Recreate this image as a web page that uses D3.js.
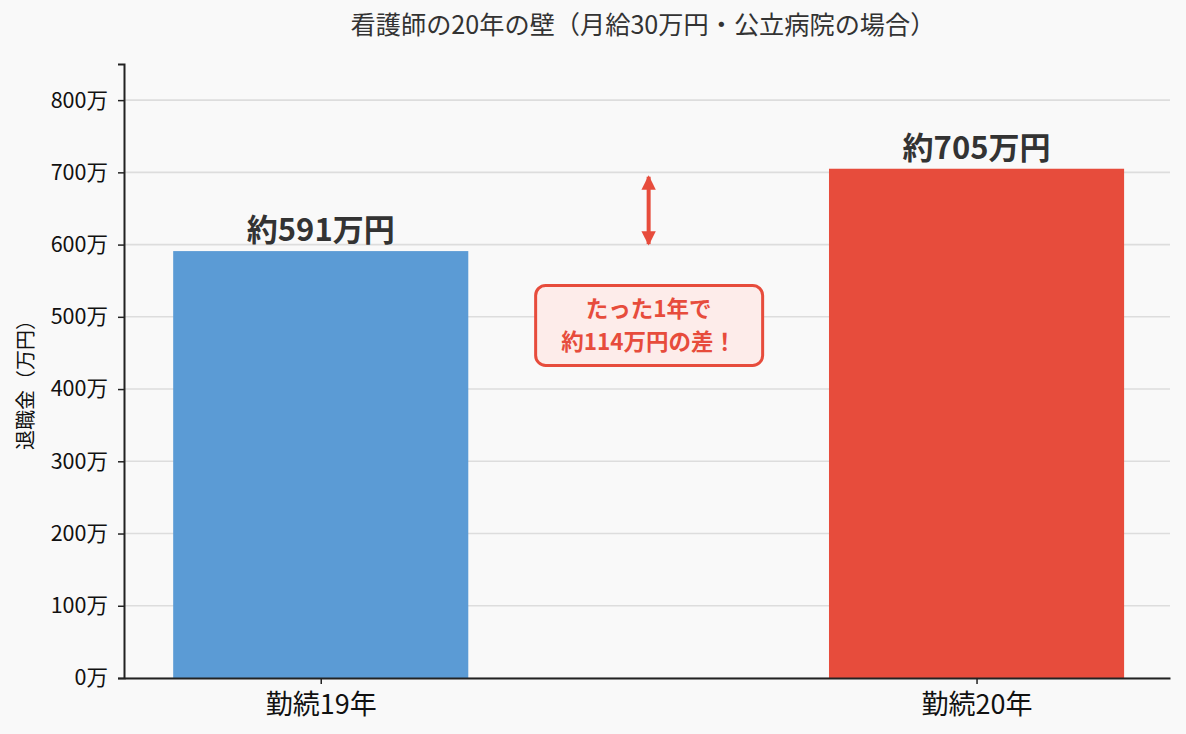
<!DOCTYPE html>
<html>
<head>
<meta charset="utf-8">
<script src="https://cdn.jsdelivr.net/npm/d3@7"></script>
<style>
html, body { margin: 0; padding: 0; background: #f9f9f9; }
* { font-family: 'Noto Sans CJK JP', sans-serif; }
</style>
</head>
<body>
<svg id="chart"></svg>
<script>
// data
const categories = ['勤続19年', '勤続20年'];
const values = [591, 705];
const barColors = ['#5b9bd5', '#e74c3c'];
const barLabels = ['約591万円', '約705万円'];
const yTicks = [0, 100, 200, 300, 400, 500, 600, 700, 800];
const noteLines = ['たった1年で', '約114万円の差！'];

const width = 1186, height = 734;
const margin = { top: 64, right: 16, bottom: 56, left: 124 };
const FONT = "'Noto Sans CJK JP', sans-serif";

const svg = d3.select('#chart').attr('width', width).attr('height', height);

svg.append('rect').attr('width', width).attr('height', height).attr('fill', '#f9f9f9');

const x = d3.scaleLinear().domain([-0.3, 1.295]).range([margin.left, width - margin.right]);
const y = d3.scaleLinear().domain([0, 850]).range([height - margin.bottom, margin.top]);
const barW = 0.45;

// grid
svg.append('g')
  .selectAll('line')
  .data(yTicks)
  .enter()
  .append('line')
  .attr('x1', margin.left)
  .attr('x2', width - margin.right)
  .attr('y1', d => y(d))
  .attr('y2', d => y(d))
  .attr('stroke', '#dddddd')
  .attr('stroke-width', 1.6);

// bars
svg.append('g')
  .selectAll('rect')
  .data(values)
  .enter()
  .append('rect')
  .attr('x', (d, i) => x(i - barW / 2))
  .attr('width', (d, i) => x(i + barW / 2) - x(i - barW / 2))
  .attr('y', d => y(d))
  .attr('height', d => y(0) - y(d))
  .attr('fill', (d, i) => barColors[i]);

// value labels
svg.append('g')
  .selectAll('text')
  .data(values)
  .enter()
  .append('text')
  .attr('x', (d, i) => x(i))
  .attr('y', d => y(d) - 10)
  .attr('text-anchor', 'middle')
  .attr('font-size', 31)
  .attr('font-weight', 'bold')
  .attr('fill', '#333')
  .text((d, i) => barLabels[i]);

// y axis
const yAxis = svg.append('g')
  .attr('transform', `translate(${margin.left},0)`)
  .call(d3.axisLeft(y).tickValues(yTicks).tickFormat(d => d + '万').tickSize(6).tickPadding(10));
yAxis.select('.domain').attr('stroke', '#222').attr('stroke-width', 2);
yAxis.selectAll('.tick line').attr('stroke', '#222').attr('stroke-width', 1.5);
yAxis.selectAll('.tick text').attr('font-size', 21.5).attr('fill', '#111').attr('font-family', FONT);

// x axis
const xAxis = svg.append('g')
  .attr('transform', `translate(0,${y(0)})`)
  .call(d3.axisBottom(x).tickValues([0, 1]).tickFormat(i => categories[i]).tickSize(6).tickSizeOuter(0));
xAxis.select('.domain').attr('stroke', '#222').attr('stroke-width', 2);
xAxis.selectAll('.tick line').attr('stroke', '#222').attr('stroke-width', 1.5);
xAxis.selectAll('.tick text')
  .attr('font-size', 27)
  .attr('fill', '#111')
  .attr('font-family', FONT)
  .attr('dy', null)
  .attr('y', 36);

// title
svg.append('text')
  .attr('x', (margin.left + width - margin.right) / 2 - 4)
  .attr('y', 34)
  .attr('text-anchor', 'middle')
  .attr('font-size', 25.2)
  .attr('fill', '#333')
  .text('看護師の20年の壁（月給30万円・公立病院の場合）');

// y label
svg.append('text')
  .attr('transform', `translate(33,380) rotate(-90)`)
  .attr('text-anchor', 'middle')
  .attr('font-size', 20)
  .attr('fill', '#111')
  .text('退職金（万円）');

// difference arrow
const ax = x(0.5);
const red = '#e74c3c';
const defs = svg.append('defs');
defs.append('marker')
  .attr('id', 'head')
  .attr('viewBox', '0 0 10 10')
  .attr('refX', 9).attr('refY', 5)
  .attr('markerWidth', 3.6).attr('markerHeight', 3.6)
  .attr('markerUnits', 'strokeWidth')
  .attr('orient', 'auto-start-reverse')
  .append('path')
  .attr('d', 'M0,0 L10,5 L0,10 z')
  .attr('fill', red);

svg.append('line')
  .attr('x1', ax).attr('x2', ax)
  .attr('y1', y(values[0]) - 7)
  .attr('y2', y(values[1]) + 8)
  .attr('stroke', red)
  .attr('stroke-width', 4)
  .attr('marker-start', 'url(#head)')
  .attr('marker-end', 'url(#head)');

// note box
const noteY = y(488);
const note = svg.append('g');
note.append('rect')
  .attr('x', ax - 113)
  .attr('y', noteY - 40)
  .attr('width', 227)
  .attr('height', 80)
  .attr('rx', 10)
  .attr('fill', '#fdecea')
  .attr('stroke', red)
  .attr('stroke-width', 3);
note.append('text')
  .attr('text-anchor', 'middle')
  .attr('font-size', 22.5)
  .attr('font-weight', 'bold')
  .attr('fill', red)
  .selectAll('tspan')
  .data(noteLines)
  .enter()
  .append('tspan')
  .attr('x', ax)
  .attr('y', (d, i) => noteY - 8 + i * 33)
  .text(d => d);
</script>
</body>
</html>
